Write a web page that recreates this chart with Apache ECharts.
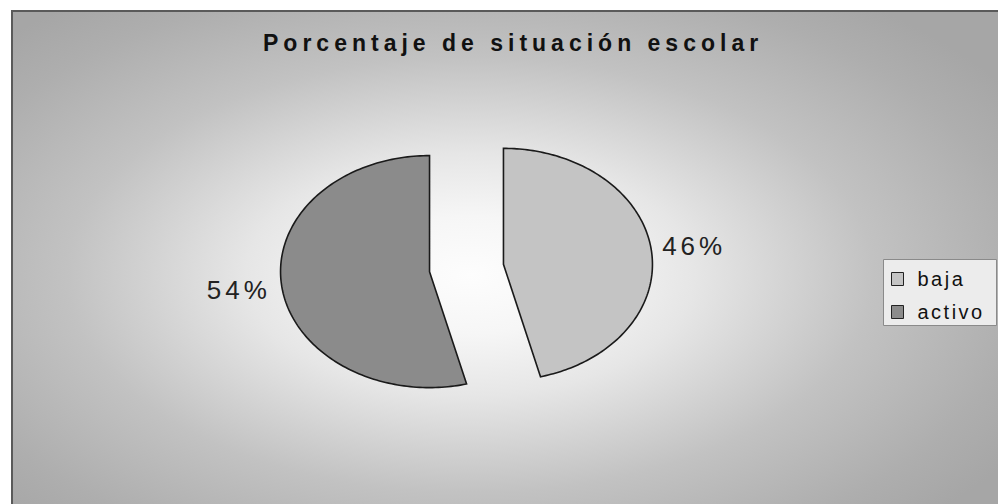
<!DOCTYPE html>
<html><head><meta charset="utf-8">
<script src="https://cdn.jsdelivr.net/npm/echarts@6/dist/echarts.min.js"></script>
<style>
html,body{margin:0;padding:0;background:#fff;}
#c{width:998px;height:504px;}
#c svg text{letter-spacing:4px;}
#c svg text[style*="bold"]{letter-spacing:5px;}
#c svg text[style*="20px"]{letter-spacing:2.5px;}
</style></head><body><div id="c"></div>
<script>
const titleText = 'Porcentaje de situación escolar';
const categories = ['baja', 'activo'];
const values = [46, 54];
const sliceColors = ['#c4c4c4', '#8b8b8b'];

const total = values.reduce((a, b) => a + b, 0);
const startFrac = values.map((v, i) => values.slice(0, i).reduce((a, b) => a + b, 0) / total);

function renderSlice(i) {
  return function (params, api) {
    const a0 = startFrac[i] * 2 * Math.PI;
    const a1 = a0 + values[i] / total * 2 * Math.PI;
    const mid = (a0 + a1) / 2;
    const ex = 0.25;
    const ox = ex * Math.sin(mid), oy = ex * Math.cos(mid);
    const pts = [api.coord([ox, oy])];
    const n = 160;
    for (let k = 0; k <= n; k++) {
      const t = a0 + (a1 - a0) * k / n;
      pts.push(api.coord([ox + Math.sin(t), oy + Math.cos(t)]));
    }
    const lp = api.coord([ox + 1.29 * Math.sin(mid), oy + 1.29 * Math.cos(mid)]);
    return {
      type: 'group',
      children: [
        { type: 'polygon', shape: { points: pts },
          style: { fill: api.visual('color'), stroke: '#1a1a1a', lineWidth: 1.6 } },
        { type: 'text', x: lp[0], y: lp[1],
          style: { text: Math.round(values[i] / total * 100) + '%', align: 'center', verticalAlign: 'middle',
                   font: '26px "Liberation Sans"', fill: '#222' } }
      ]
    };
  };
}

const chart = echarts.init(document.getElementById('c'), null, { renderer: 'svg' });
const S = 0.54;
chart.setOption({
  animation: false,
  backgroundColor: '#ffffff',
  graphic: [
    { type: 'rect', x: 12, y: 11, scaleY: S, z: -10, silent: true,
      shape: { x: 0, y: 0, width: 986, height: 493 / S },
      style: { fill: { type: 'radial', global: true, x: 458, y: (275 - 11) / S, r: 640,
        colorStops: [
          { offset: 0, color: '#fdfdfd' },
          { offset: 0.17, color: '#f6f6f6' },
          { offset: 0.35, color: '#e6e6e6' },
          { offset: 0.52, color: '#d0d0d0' },
          { offset: 0.63, color: '#c2c2c2' },
          { offset: 0.87, color: '#aeaeae' },
          { offset: 1, color: '#a6a6a6' }
        ] } } },
    { type: 'rect', z: -9, silent: true,
      shape: { x: 12, y: 11, width: 1000, height: 510 },
      style: { fill: 'none', stroke: '#5a5a5a', lineWidth: 2 } },
    { type: 'rect', z: -8, silent: true,
      shape: { x: 883.5, y: 259.5, width: 113, height: 66 },
      style: { fill: '#ececec', stroke: '#8a8a8a', lineWidth: 1 } }
  ],
  title: {
    text: titleText, left: 263, top: 31, padding: 0,
    textStyle: { fontSize: 23, fontWeight: 'bold', fontFamily: 'Liberation Sans', color: '#111' }
  },
  legend: {
    orient: 'vertical', left: 883, top: 259, icon: 'rect',
    itemWidth: 12, itemHeight: 13, itemGap: 13,
    padding: [10, 34, 4, 8],
    itemStyle: { borderColor: '#222', borderWidth: 1 },
    textStyle: { fontSize: 20, fontFamily: 'Liberation Sans', color: '#111', lineHeight: 20, padding: [0, 0, 0, 9] },
    data: categories
  },
  grid: { left: 317.5, top: 152, width: 298, height: 232 },
  xAxis: { type: 'value', min: -1, max: 1, show: false },
  yAxis: { type: 'value', min: -1, max: 1, show: false },
  series: categories.map((c, i) => ({
    type: 'custom', name: c, coordinateSystem: 'cartesian2d', clip: false,
    itemStyle: { color: sliceColors[i] },
    encode: { x: 0, y: 1 },
    data: [{ name: c, value: [0, 0, values[i]] }],
    renderItem: renderSlice(i)
  }))
});
</script></body></html>
